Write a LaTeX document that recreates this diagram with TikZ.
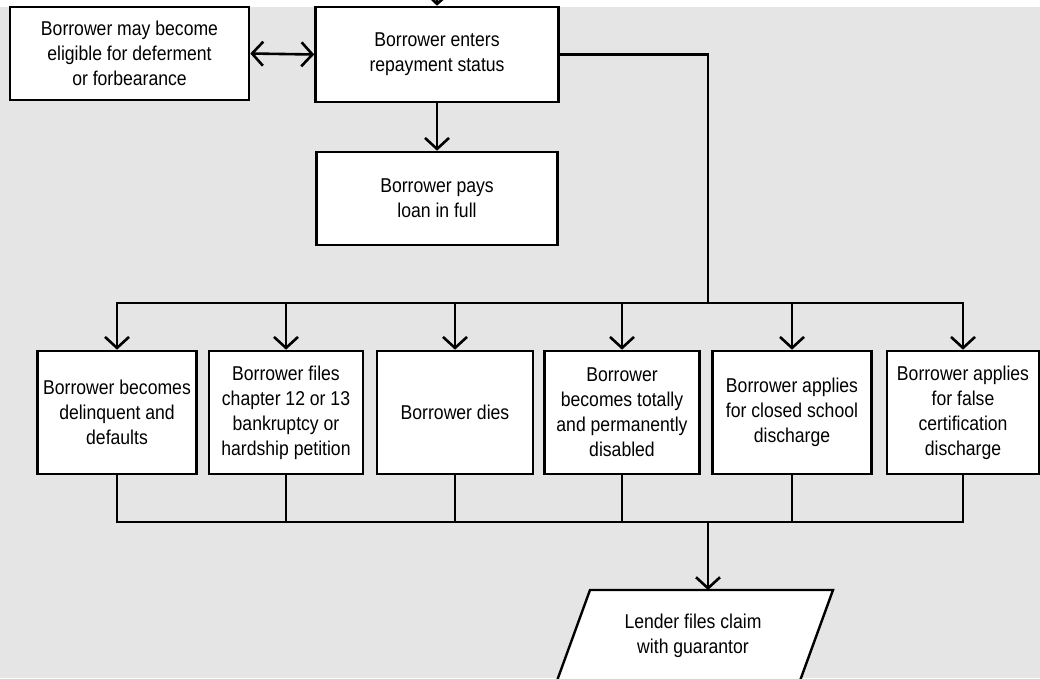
\documentclass[tikz,border=0pt]{standalone}
\usepackage{fontspec}
\setmainfont{Liberation Sans}[FakeStretch=0.88]
\usetikzlibrary{arrows.meta}
\definecolor{bggray}{RGB}{229,229,229}
\tikzset{
  box/.style={draw, line width=2.6pt, fill=white, inner sep=0pt, align=center,
    font=\fontsize{20}{25}\selectfont},
  rowbox/.style={box, minimum height=123pt},
  arr/.style={-{Straight Barb[length=11pt,width=24pt]}},
  biarr/.style={{Straight Barb[length=11pt,width=24pt]}-{Straight Barb[length=11pt,width=24pt]}},
  wire/.style={line width=2.6pt},
}
\begin{document}
\begin{tikzpicture}[x=1pt,y=-1pt]
\useasboundingbox (0,0) rectangle (1040,678);
\begin{scope}
\clip (0,0) rectangle (1040,678);
\fill[white] (0,0) rectangle (1040,7);
\fill[bggray] (0,7) rectangle (1040,678);

\node[box, minimum width=239pt, minimum height=93pt] (A) at (129.5,53.5)
  {Borrower may become\\eligible for deferment\\or forbearance};
\node[box, minimum width=243pt, minimum height=95pt] (B) at (437,54.5)
  {Borrower enters\\repayment status};
\node[box, minimum width=241pt, minimum height=93pt] (C) at (437,198.5)
  {Borrower pays\\loan in full};

\node[rowbox, minimum width=159pt] (b1) at (117,412.5) {Borrower becomes\\delinquent and\\defaults};
\node[rowbox, minimum width=154pt] (b2) at (286,412.5) {Borrower files\\chapter 12 or 13\\bankruptcy or\\hardship petition};
\node[rowbox, minimum width=156pt] (b3) at (455,412.5) {Borrower dies};
\node[rowbox, minimum width=155pt] (b4) at (622,412.5) {Borrower\\becomes totally\\and permanently\\disabled};
\node[rowbox, minimum width=159pt] (b5) at (792,412.5) {Borrower applies\\for closed school\\discharge};
\node[rowbox, minimum width=152pt] (b6) at (963,412.5) {Borrower applies\\for false\\certification\\discharge};

% parallelogram
\coordinate (claimtop) at (708,590);
\filldraw[fill=white, line width=2.4pt, line join=miter]
  (590,590) -- (833,590) -- (793,700) -- (550,700) -- cycle;
\node[align=center, inner sep=0pt, font=\fontsize{20}{25}\selectfont] (claim) at (693,636)
  {Lender files claim\\with guarantor};

% connectors
\coordinate (topin) at (438,-40);
\coordinate (split) at (708,303);
\coordinate (merge) at (708,522);

\draw[wire, arr] (topin) -- (B.north);
\draw[wire, biarr] (A.east) -- (B.west);
\draw[wire, arr] (B.south) -- (C.north);
\draw[wire] (B.east) -| (split);
\draw[wire, biarr, line join=miter] (b1.north) |- (b6 |- split) -- (b6.north);
\foreach \n in {b2,b3,b4,b5}
  \draw[wire, arr] (\n |- split) -- (\n.north);
\draw[wire, line join=miter] (b1.south) |- (b6 |- merge) -- (b6.south);
\foreach \n in {b2,b3,b4,b5}
  \draw[wire] (\n.south) -- (\n |- merge);
\draw[wire, arr] (merge) -- (claimtop);
\end{scope}
\end{tikzpicture}
\end{document}
